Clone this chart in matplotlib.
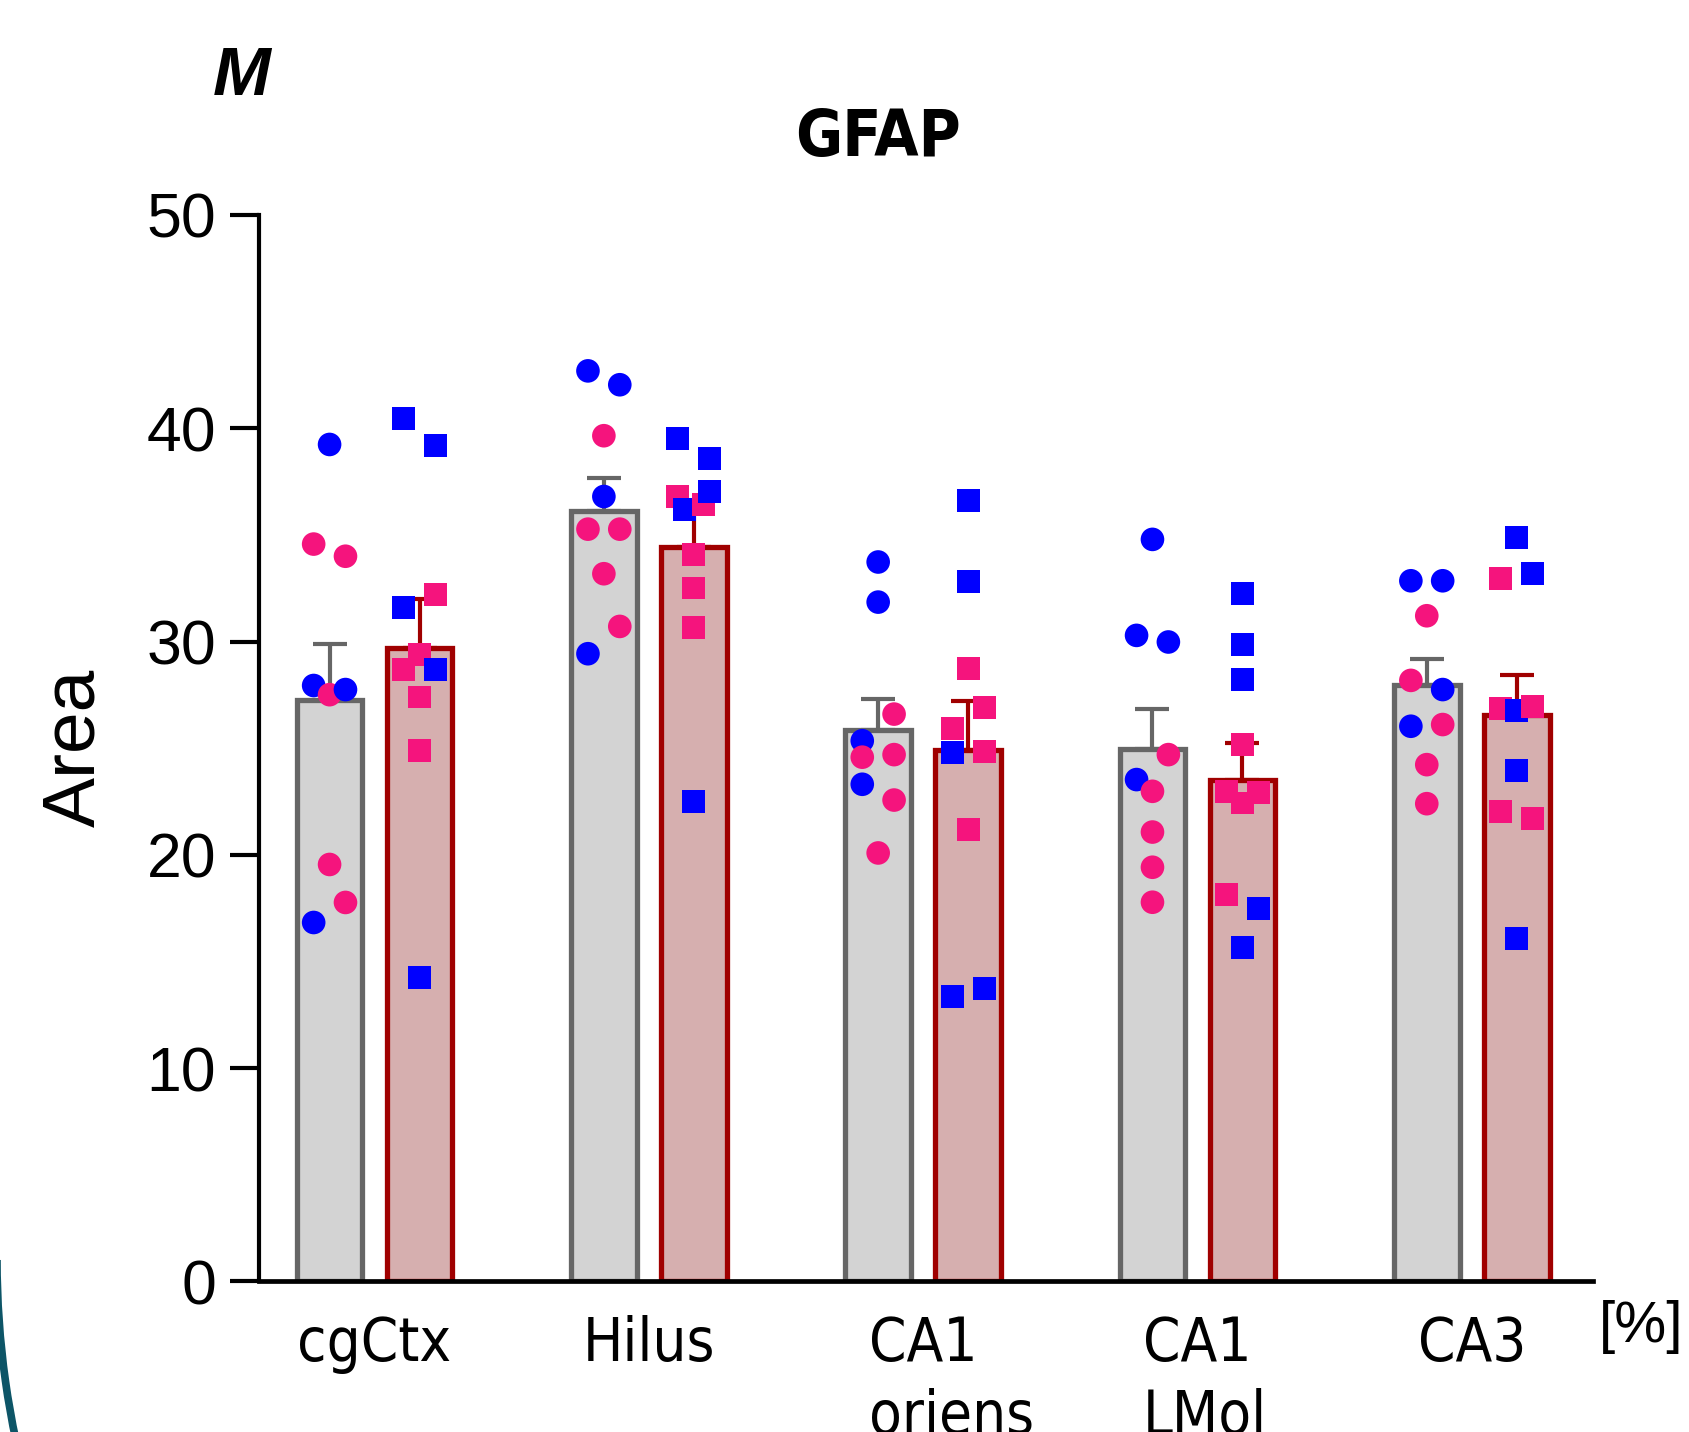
import matplotlib
matplotlib.use("Agg")
import matplotlib.pyplot as plt
import numpy as np
from matplotlib.patches import Arc
from matplotlib import font_manager

# ---------------- data ----------------
regions_line1 = ["cgCtx", "Hilus", "CA1", "CA1", "CA3"]
regions_line2 = ["", "", "oriens", "LMol", ""]

# control (grey bars, circles); sex: M = blue, F = pink
ctrl_cgctx = [39.24, 34.57, 34.00, 27.94, 27.51, 27.75, 19.55, 16.83, 17.77]
ctrl_cgctx_sex = "MFFMFMFMF"
ctrl_hilus = [42.69, 42.04, 39.65, 36.80, 35.27, 35.27, 33.18, 29.43, 30.71]
ctrl_hilus_sex = "MMFMFFFMF"
ctrl_ca1o = [33.73, 31.85, 25.35, 26.60, 24.58, 24.70, 23.31, 22.57, 20.09]
ctrl_ca1o_sex = "MMMFFFMFF"
ctrl_ca1l = [34.79, 30.29, 29.98, 23.53, 24.70, 22.98, 21.07, 19.42, 17.78]
ctrl_ca1l_sex = "MMMMFFFFF"
ctrl_ca3 = [32.85, 32.85, 31.21, 28.18, 27.75, 26.03, 26.11, 24.23, 22.40]
ctrl_ca3_sex = "MMFFMMFFF"

# treated (red bars, squares)
trt_cgctx = [40.46, 39.18, 31.60, 32.20, 28.70, 29.40, 28.70, 27.40, 24.90, 14.25]
trt_cgctx_sex = "MMMFFFMFFM"
trt_hilus = [39.54, 38.60, 36.80, 36.18, 36.41, 37.04, 34.07, 32.51, 30.68, 22.51]
trt_hilus_sex = "MMFMFMFFFM"
trt_ca1o = [36.63, 32.80, 28.72, 25.94, 26.91, 24.78, 24.86, 21.21, 13.37, 13.73]
trt_ca1o_sex = "MMFFFMFFMM"
trt_ca1l = [32.24, 29.85, 28.21, 25.17, 22.98, 22.43, 22.93, 18.14, 17.47, 15.64]
trt_ca1l_sex = "MMMFFFFFMM"
trt_ca3 = [34.90, 32.95, 33.21, 26.88, 26.76, 26.96, 23.95, 22.04, 21.70, 16.06]
trt_ca3_sex = "MFMFMFMFFM"

ctrl_sets = [(ctrl_cgctx, ctrl_cgctx_sex), (ctrl_hilus, ctrl_hilus_sex),
             (ctrl_ca1o, ctrl_ca1o_sex), (ctrl_ca1l, ctrl_ca1l_sex),
             (ctrl_ca3, ctrl_ca3_sex)]
trt_sets = [(trt_cgctx, trt_cgctx_sex), (trt_hilus, trt_hilus_sex),
            (trt_ca1o, trt_ca1o_sex), (trt_ca1l, trt_ca1l_sex),
            (trt_ca3, trt_ca3_sex)]

yticks = [0, 10, 20, 30, 40, 50]

# ---------------- fonts ----------------
def available(name):
    try:
        font_manager.findfont(font_manager.FontProperties(family=name),
                              fallback_to_default=False)
        return True
    except Exception:
        return False

REG = "Liberation Sans" if available("Liberation Sans") else "DejaVu Sans"
plt.rcParams["font.family"] = [REG, "DejaVu Sans"]

# a narrow face for the title / category labels, if one is installed
narrow_kw = None
if available("Liberation Sans Narrow"):
    narrow_kw = dict(family=["Liberation Sans Narrow", REG])
else:
    try:
        p = font_manager.findfont(font_manager.FontProperties(
            family="DejaVu Sans", stretch="condensed", weight="bold"),
            fallback_to_default=False)
        if "Condensed" in p:
            narrow_kw = dict(family=["DejaVu Sans"], stretch="condensed")
    except Exception:
        pass

if narrow_kw is not None:
    title_kw = dict(fontsize=46, **narrow_kw)
    xlab_kw = dict(fontsize=43, **narrow_kw)
else:
    title_kw = dict(fontsize=45, family=[REG])
    xlab_kw = dict(fontsize=43, family=[REG])

# ---------------- styling ----------------
BLUE = "#0000FF"
PINK = "#F5147D"
CTRL_FILL, CTRL_EDGE = "#D3D3D3", "#666666"
TRT_FILL, TRT_EDGE = "#D6AFAF", "#A00000"
BAR_W = 0.24
OFF = 0.164
STEP = 0.058
ROW_T = 1.33


def swarm_offsets(vals):
    vals = np.asarray(vals, dtype=float)
    order = sorted(range(len(vals)), key=lambda i: -vals[i])
    rows, cur, start = [], [order[0]], vals[order[0]]
    for i in order[1:]:
        if start - vals[i] < ROW_T:
            cur.append(i)
        else:
            rows.append(cur)
            cur, start = [i], vals[i]
    rows.append(cur)
    slots = {1: [0], 2: [-1, 1], 3: [-1, 0, 1], 4: [-1, -0.6, 0.6, 1]}
    off = np.zeros(len(vals))
    for row in rows:
        row = sorted(row)
        for k, idx in enumerate(row):
            off[idx] = slots[len(row)][k] * STEP
    return off


fig = plt.figure(figsize=(16.9, 14.32), dpi=100)
ax = fig.add_axes([0.1533, 0.1051, 0.7893, 0.7448])

for i in range(len(regions_line1)):
    for (vals, sex), dx, fill, edge, mk, ms in [
        (ctrl_sets[i], -OFF, CTRL_FILL, CTRL_EDGE, "o", 17),
        (trt_sets[i], OFF, TRT_FILL, TRT_EDGE, "s", 16.5),
    ]:
        v = np.asarray(vals, dtype=float)
        mean = v.mean()
        sem = v.std(ddof=1) / np.sqrt(len(v))
        x = i + dx
        ax.bar(x, mean, width=BAR_W, color=fill, edgecolor=edge,
               linewidth=3.8, zorder=2)
        ax.errorbar(x, mean, yerr=[[0], [sem]], fmt="none", ecolor=edge,
                    elinewidth=3, capsize=12, capthick=3, zorder=3)
        cols = [BLUE if s == "M" else PINK for s in sex]
        ax.scatter(x + swarm_offsets(v), v, marker=mk, s=ms ** 2, c=cols,
                   linewidths=0, zorder=4, clip_on=False)

ax.set_xlim(-0.421, 4.442)
ax.set_ylim(0, 50)
ax.set_yticks(yticks)
ax.set_yticklabels([str(t) for t in yticks], fontsize=45)
ax.set_xticks(range(len(regions_line1)))
ax.set_xticklabels(regions_line1, **xlab_kw)

for s in ["top", "right"]:
    ax.spines[s].set_visible(False)
ax.spines["left"].set_linewidth(3.0)
ax.spines["bottom"].set_linewidth(3.4)
ax.tick_params(axis="y", length=21, width=3, pad=10, direction="out")
ax.tick_params(axis="x", length=0, pad=24)

ax.set_ylabel("Area", fontsize=54)
ax.yaxis.set_label_coords(-0.112, 0.5)

# second lines of the multi-line region labels, left-aligned to line 1
for lab, second in zip(ax.get_xticklabels(), regions_line2):
    if second:
        ax.annotate(second, xy=(0, 0), xycoords=lab, xytext=(0, -43.5),
                    textcoords="offset points", ha="left", va="baseline",
                    annotation_clip=False, **xlab_kw)

fig.text(0.971, 0.0733, "[%]", ha="center", va="center", fontsize=42)
fig.text(0.5195, 0.891, "GFAP", ha="center", va="baseline",
         fontweight="bold", **title_kw)
fig.text(0.126, 0.9337, "M", ha="left", va="baseline", fontsize=50,
         fontweight="bold", fontstyle="italic")

# decorative teal arc in the bottom-left corner of the slide
arc = Arc((8.67, 1.72), 2 * 8.70, 2 * 8.70, theta1=180, theta2=196,
          transform=fig.dpi_scale_trans, color="#0D5567", lw=5.5)
fig.add_artist(arc)

fig.savefig("out.png", dpi=100)
